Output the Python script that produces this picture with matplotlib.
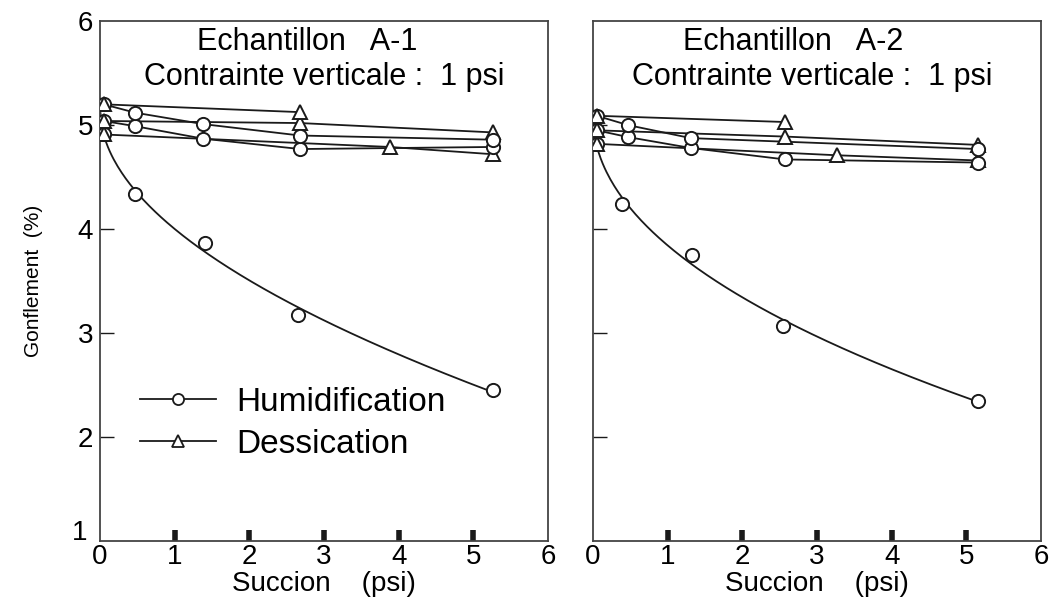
import numpy as np
import matplotlib.pyplot as plt
import matplotlib.transforms as mtransforms

plt.rcParams['font.family'] = ['Liberation Sans', 'DejaVu Sans']

# Echantillon A-1 : humidification (circles) / dessication (triangles) cycles
a1_hum1_x = [0.05, 0.47, 1.41, 2.65, 5.26]
a1_hum1_y = [4.91, 4.34, 3.87, 3.17, 2.45]
a1_des1_x = [0.05, 3.88, 5.26]
a1_des1_y = [4.91, 4.79, 4.72]
a1_hum2_x = [5.26, 2.68, 1.38, 0.47, 0.05]
a1_hum2_y = [4.79, 4.77, 4.87, 4.99, 5.04]
a1_des2_x = [0.05, 2.68, 5.26]
a1_des2_y = [5.04, 5.02, 4.93]
a1_hum3_x = [5.26, 2.68, 1.38, 0.47, 0.05]
a1_hum3_y = [4.86, 4.90, 5.01, 5.12, 5.20]
a1_des3_x = [0.05, 2.68]
a1_des3_y = [5.20, 5.125]

# Echantillon A-2
a2_hum1_x = [0.05, 0.39, 1.33, 2.54, 5.15]
a2_hum1_y = [4.82, 4.24, 3.75, 3.07, 2.35]
a2_des1_x = [0.05, 3.27, 5.15]
a2_des1_y = [4.82, 4.71, 4.66]
a2_hum2_x = [5.15, 2.57, 1.31, 0.47, 0.05]
a2_hum2_y = [4.64, 4.67, 4.78, 4.885, 4.95]
a2_des2_x = [0.05, 2.57, 5.15]
a2_des2_y = [4.95, 4.89, 4.81]
a2_hum3_x = [5.15, 1.31, 0.47, 0.05]
a2_hum3_y = [4.77, 4.875, 5.00, 5.09]
a2_des3_x = [0.05, 2.57]
a2_des3_y = [5.09, 5.03]

x_ticks = [0, 1, 2, 3, 4, 5, 6]
y_ticks = [1, 2, 3, 4, 5, 6]

LC = '#1a1a1a'
FS = 20    # tick labels / axis label
FT = 22    # panel titles


def hum(ax, x, y, fit=False):
    if fit:
        # smooth trend through the first wetting points
        s = np.sqrt(x)
        c = np.polyfit(s, y, 2)
        xx = np.linspace(0, max(x), 200)
        ax.plot(xx, np.polyval(c, np.sqrt(xx)), color=LC, lw=1.3)
    else:
        ax.plot(x, y, color=LC, lw=1.3)
    ax.plot(x, y, 'o', ms=9.5, mfc='white', mec=LC, mew=1.4, zorder=3)


def des(ax, x, y):
    ax.plot(x, y, color=LC, lw=1.3)
    ax.plot(x, y, '^', ms=10.5, mfc='white', mec=LC, mew=1.4, zorder=3)


fig = plt.figure(figsize=(10.52, 6.01), dpi=100)
ax1 = fig.add_axes([0.095, 0.0998, 0.426, 0.865])
ax2 = fig.add_axes([0.5637, 0.0998, 0.426, 0.865])

hum(ax1, a1_hum1_x, a1_hum1_y, fit=True)
des(ax1, a1_des1_x, a1_des1_y)
hum(ax1, a1_hum2_x, a1_hum2_y)
des(ax1, a1_des2_x, a1_des2_y)
hum(ax1, a1_hum3_x, a1_hum3_y)
des(ax1, a1_des3_x, a1_des3_y)

hum(ax2, a2_hum1_x, a2_hum1_y, fit=True)
des(ax2, a2_des1_x, a2_des1_y)
hum(ax2, a2_hum2_x, a2_hum2_y)
des(ax2, a2_des2_x, a2_des2_y)
hum(ax2, a2_hum3_x, a2_hum3_y)
des(ax2, a2_des3_x, a2_des3_y)

for ax, name, cx1, cx2 in [(ax1, 'A-1', 2.78, 3.0), (ax2, 'A-2', 2.68, 2.94)]:
    ax.set_xlim(0, 6)
    ax.set_ylim(1, 6)
    ax.set_xticks(x_ticks)
    ax.set_yticks(y_ticks)
    ax.tick_params(axis='x', direction='in', length=8, width=4, color=LC,
                   labelsize=FS, pad=2)
    ax.tick_params(axis='y', direction='in', length=10, width=1, color=LC,
                   labelsize=FS, pad=5)
    for t in (ax.xaxis.get_major_ticks()[0], ax.xaxis.get_major_ticks()[-1],
              ax.yaxis.get_major_ticks()[0], ax.yaxis.get_major_ticks()[-1]):
        t.tick1line.set_visible(False)
    for sp in ax.spines.values():
        sp.set_color('#444444')
        sp.set_linewidth(1.3)
    ax.set_xlabel('Succion    (psi)', fontsize=FS, labelpad=1)
    ax.text(cx1, 5.80, 'Echantillon   ' + name, ha='center', va='center', fontsize=FT)
    ax.text(cx2, 5.46, 'Contrainte verticale :  1 psi', ha='center', va='center',
            fontsize=FT)

ax2.tick_params(axis='y', labelleft=False)
ax1.set_ylabel('Gonflement  (%)', fontsize=15, labelpad=21,
               family=['Liberation Sans Narrow', 'Liberation Sans', 'DejaVu Sans'])

# lift the "1" label off the corner like in the original figure
lab1 = ax1.get_yticklabels()[0]
lab1.set_transform(lab1.get_transform() +
                   mtransforms.ScaledTranslation(-4 / 72, 8 / 72, fig.dpi_scale_trans))

h1, = ax1.plot([], [], '-o', color=LC, lw=1.3, ms=8, mfc='white', mec=LC, mew=1.3)
h2, = ax1.plot([], [], '-^', color=LC, lw=1.3, ms=9, mfc='white', mec=LC, mew=1.3)
ax1.legend([h1, h2], ['Humidification', 'Dessication'], frameon=False,
           fontsize=24, handlelength=2.27, handletextpad=0.6, labelspacing=0.33,
           borderaxespad=0, loc='center left', bbox_to_anchor=(0.06, 0.226))

fig.savefig('out.png', dpi=100)
